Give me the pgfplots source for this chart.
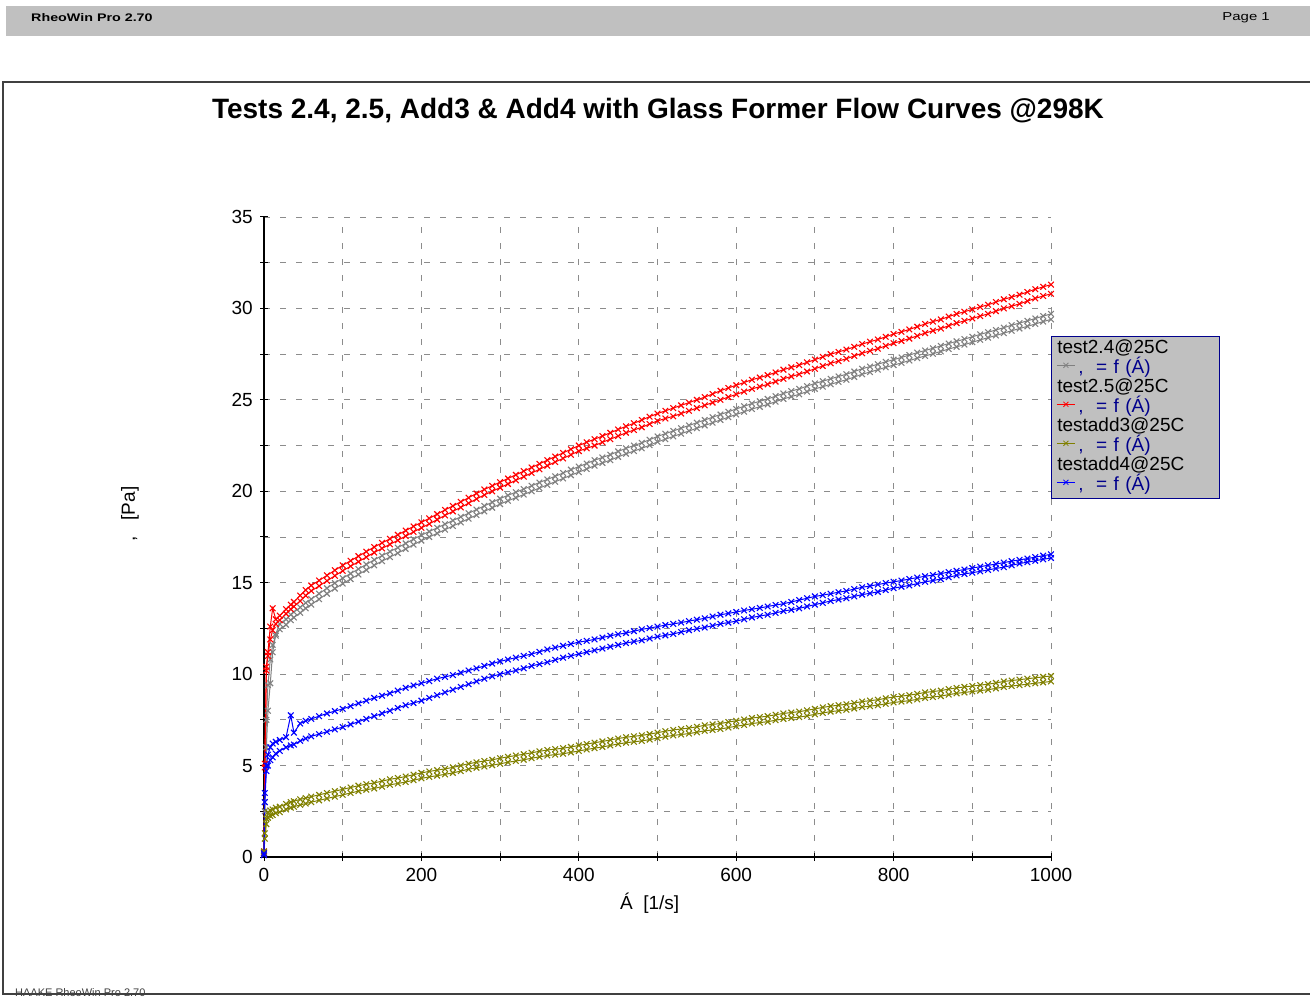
\documentclass[border=0pt]{standalone}
\usepackage{graphicx}
\usepackage{pgfplots}
\pgfplotsset{compat=1.18}
\usepackage{pgfplotstable}
\usepackage{fontspec}
\setmainfont{Liberation Sans}

\definecolor{rwgray}{RGB}{128,128,128}
\definecolor{rwred}{RGB}{255,0,0}
\definecolor{rwolive}{RGB}{128,128,0}
\definecolor{rwblue}{RGB}{0,0,255}
\definecolor{rwnavy}{RGB}{0,0,140}
\definecolor{rwpanel}{RGB}{192,192,192}
\definecolor{rwframe}{RGB}{64,64,64}
\definecolor{rwgrid}{RGB}{140,140,140}

% shear rate [1/s] and shear stress [Pa]; a = one ramp, b = the other ramp
% g = test2.4, r = test2.5, o = testadd3, b = testadd4
\pgfplotstableread{
x    ga    gb    ra    rb    oa   ob   ba    bb
0    0.3   0.2   0.2   0.3   0.2  0.3  0.1   0.2
1    2.5   3.0   5.1   4.9   1.0  1.3  3.5   3.0
3    6.0   7.5   10.4  10.2  1.8  2.1  5.0   4.7
5    8.0   9.4   11.2  11.0  2.45 2.15 5.6   5.0
8    9.5   10.8  12.6  11.9  2.55 2.25 6.0   5.3
11   11.2  11.6  13.6  12.4  2.6  2.3  6.2   5.45
15   12.2  12.1  13.0  12.75 2.7  2.4  6.3   5.65
20   12.75 12.45 13.2  12.95 2.75 2.45 6.4   5.8
28   13.0  12.7  13.55 13.3  2.9  2.6  6.55  6.0
34   13.25 12.95 13.8  13.55 3.0  2.7  7.75  6.1
38   13.4  13.1  13.95 13.7  3.05 2.75 6.8   6.15
46   13.65 13.35 14.3  14.0  3.15 2.85 7.3   6.35
53   13.9  13.6  14.6  14.3  3.22 2.92 7.45  6.48
60   14.1  13.8  14.85 14.55 3.3  3.0  7.55  6.6
70   14.4  14.1  15.12 14.82 3.4  3.1  7.7   6.72
80   14.7  14.4  15.4  15.1  3.5  3.2  7.85  6.85
90   14.98 14.68 15.68 15.38 3.6  3.3  7.98  6.98
100  15.25 14.95 15.95 15.65 3.7  3.4  8.1   7.1
110  15.5  15.2  16.2  15.9  3.8  3.5  8.25  7.25
120  15.75 15.45 16.45 16.15 3.9  3.6  8.4   7.4
130  16.0  15.7  16.7  16.4  3.98 3.68 8.55  7.55
140  16.25 15.95 16.95 16.65 4.05 3.75 8.7   7.7
150  16.48 16.18 17.18 16.88 4.15 3.85 8.82  7.85
160  16.7  16.4  17.4  17.1  4.25 3.95 8.95  8.0
170  16.92 16.62 17.62 17.32 4.32 4.02 9.1   8.15
180  17.15 16.85 17.85 17.55 4.4  4.1  9.25  8.3
190  17.38 17.08 18.08 17.78 4.5  4.2  9.38  8.42
200  17.6  17.3  18.3  18.0  4.6  4.3  9.5   8.55
210  17.8  17.5  18.52 18.22 4.68 4.38 9.62  8.7
220  18.0  17.7  18.75 18.45 4.75 4.45 9.75  8.85
230  18.2  17.9  18.98 18.68 4.82 4.52 9.85  9.0
240  18.4  18.1  19.2  18.9  4.9  4.6  9.95  9.15
250  18.6  18.3  19.42 19.12 5.0  4.7  10.08 9.3
260  18.8  18.5  19.65 19.35 5.1  4.8  10.2  9.45
270  19.0  18.7  19.88 19.58 5.18 4.88 10.32 9.6
280  19.2  18.9  20.1  19.8  5.25 4.95 10.45 9.75
290  19.4  19.1  20.3  20.0  5.32 5.02 10.58 9.88
300  19.6  19.3  20.5  20.2  5.4  5.1  10.7  10.0
310  19.78 19.48 20.7  20.4  5.48 5.18 10.8  10.1
320  19.95 19.65 20.9  20.6  5.55 5.25 10.9  10.2
330  20.12 19.82 21.1  20.8  5.62 5.32 11.0  10.32
340  20.3  20.0  21.3  21.0  5.7  5.4  11.1  10.45
350  20.48 20.18 21.5  21.2  5.78 5.48 11.22 10.55
360  20.65 20.35 21.7  21.4  5.85 5.55 11.35 10.65
370  20.82 20.52 21.9  21.6  5.9  5.6  11.45 10.78
380  21.0  20.7  22.1  21.8  5.95 5.65 11.55 10.9
390  21.18 20.88 22.3  22.0  6.02 5.72 11.65 11.0
400  21.35 21.05 22.5  22.2  6.1  5.8  11.75 11.1
410  21.52 21.22 22.68 22.35 6.18 5.88 11.82 11.2
420  21.7  21.4  22.85 22.5  6.25 5.95 11.9  11.3
430  21.85 21.55 23.02 22.68 6.32 6.02 12.0  11.4
440  22.0  21.7  23.2  22.85 6.4  6.1  12.1  11.5
450  22.18 21.88 23.38 23.02 6.48 6.18 12.18 11.6
460  22.35 22.05 23.55 23.2  6.55 6.25 12.25 11.7
470  22.5  22.2  23.72 23.35 6.6  6.3  12.35 11.78
480  22.65 22.35 23.9  23.5  6.65 6.35 12.45 11.85
490  22.82 22.52 24.08 23.68 6.72 6.42 12.52 11.95
500  23.0  22.7  24.25 23.85 6.8  6.5  12.6  12.05
510  23.15 22.85 24.4  23.98 6.88 6.58 12.68 12.12
520  23.3  23.0  24.55 24.1  6.95 6.65 12.75 12.2
530  23.45 23.15 24.7  24.25 7.0  6.7  12.82 12.3
540  23.6  23.3  24.85 24.4  7.05 6.75 12.9  12.4
550  23.75 23.45 25.0  24.55 7.12 6.82 12.98 12.48
560  23.9  23.6  25.15 24.7  7.2  6.9  13.05 12.55
570  24.05 23.75 25.32 24.85 7.25 6.95 13.15 12.65
580  24.2  23.9  25.5  25.0  7.3  7.0  13.25 12.75
590  24.35 24.05 25.65 25.15 7.38 7.08 13.32 12.82
600  24.5  24.2  25.8  25.3  7.45 7.15 13.4  12.9
610  24.65 24.35 25.95 25.45 7.52 7.22 13.48 13.0
620  24.8  24.5  26.1  25.6  7.6  7.3  13.55 13.1
630  24.92 24.62 26.22 25.72 7.65 7.35 13.62 13.18
640  25.05 24.75 26.35 25.85 7.7  7.4  13.7  13.25
650  25.2  24.9  26.5  26.0  7.78 7.48 13.78 13.35
660  25.35 25.05 26.65 26.15 7.85 7.55 13.85 13.45
670  25.48 25.18 26.78 26.28 7.9  7.6  13.95 13.52
680  25.6  25.3  26.9  26.4  7.95 7.65 14.05 13.6
690  25.75 25.45 27.05 26.55 8.02 7.72 14.15 13.7
700  25.9  25.6  27.2  26.7  8.1  7.8  14.25 13.8
710  26.02 25.72 27.35 26.85 8.18 7.88 14.32 13.9
720  26.15 25.85 27.5  27.0  8.25 7.95 14.4  14.0
730  26.28 25.98 27.62 27.12 8.3  8.0  14.48 14.08
740  26.4  26.1  27.75 27.25 8.35 8.05 14.55 14.15
750  26.55 26.25 27.9  27.4  8.42 8.12 14.65 14.25
760  26.7  26.4  28.05 27.55 8.5  8.2  14.75 14.35
770  26.82 26.52 28.18 27.68 8.55 8.25 14.82 14.42
780  26.95 26.65 28.3  27.8  8.6  8.3  14.9  14.5
790  27.08 26.78 28.45 27.95 8.68 8.38 14.98 14.6
800  27.2  26.9  28.6  28.1  8.75 8.45 15.05 14.7
810  27.32 27.02 28.72 28.22 8.8  8.5  15.12 14.78
820  27.45 27.15 28.85 28.35 8.85 8.55 15.2  14.85
830  27.58 27.28 29.0  28.5  8.92 8.62 15.28 14.95
840  27.7  27.4  29.15 28.65 9.0  8.7  15.35 15.05
850  27.82 27.52 29.28 28.78 9.05 8.75 15.42 15.12
860  27.95 27.65 29.4  28.9  9.1  8.8  15.5  15.2
870  28.08 27.78 29.55 29.05 9.18 8.88 15.58 15.3
880  28.2  27.9  29.7  29.2  9.25 8.95 15.65 15.4
890  28.32 28.02 29.82 29.32 9.3  9.0  15.72 15.48
900  28.45 28.15 29.95 29.45 9.35 9.05 15.8  15.55
910  28.58 28.28 30.08 29.58 9.4  9.1  15.88 15.62
920  28.7  28.4  30.2  29.7  9.45 9.15 15.95 15.7
930  28.82 28.52 30.35 29.85 9.52 9.22 16.02 15.78
940  28.95 28.65 30.5  30.0  9.6  9.3  16.1  15.85
950  29.08 28.78 30.62 30.12 9.65 9.35 16.18 15.95
960  29.2  28.9  30.75 30.25 9.7  9.4  16.25 16.05
970  29.32 29.02 30.9  30.4  9.75 9.45 16.32 16.12
980  29.45 29.15 31.05 30.55 9.8  9.5  16.4  16.2
990  29.58 29.28 31.18 30.68 9.85 9.55 16.48 16.28
1000 29.7  29.4  31.3  30.8  9.9  9.6  16.55 16.35
}\flowdata

\pgfplotsset{
  flow/.style={#1, line width=1pt, mark=x, mark size=4pt,
    mark options={solid, line width=1.1pt}},
}

\begin{document}
\begin{tikzpicture}
\useasboundingbox (0,0) rectangle (1310pt,997pt);

% page header
\fill[rwpanel] (6pt,961pt) rectangle (1310pt,991pt);
\node[anchor=west, inner sep=0pt] at (31pt,979pt)
  {\scalebox{1.3}[1]{\fontsize{11}{13}\selectfont\bfseries RheoWin Pro 2.70}};
\node[anchor=east, inner sep=0pt] at (1270pt,979pt)
  {\scalebox{1.3}[1]{\fontsize{11.5}{13}\selectfont Page 1}};

% chart title
\node[anchor=center, font=\fontsize{28}{32}\selectfont\bfseries] at (658pt,886pt)
  {Tests 2.4, 2.5, Add3 \& Add4 with Glass Former Flow Curves @298K};

\begin{axis}[
  at={(264pt,140pt)}, anchor=south west,
  scale only axis, width=787pt, height=640pt,
  xmin=0, xmax=1000, ymin=0, ymax=35,
  axis x line=bottom, axis y line=left,
  axis line style={-, black, line width=1.2pt},
  xtick={0,200,...,1000}, minor xtick={100,300,...,900},
  ytick={0,5,...,35}, minor ytick={2.5,7.5,...,32.5},
  grid=both,
  major grid style={rwgrid, line width=0.9pt, dash pattern=on 6pt off 10pt},
  minor grid style={rwgrid, line width=0.9pt, dash pattern=on 6pt off 10pt},
  tick align=center, major tick length=8pt, minor tick length=8pt,
  tick style={black, line width=1pt},
  /pgf/number format/assume math mode=true,
  /pgf/number format/1000 sep={},
  tick label style={font=\fontsize{19}{22}\selectfont},
  xticklabel style={inner sep=0pt, yshift=-7pt},
  yticklabel style={inner sep=0pt, xshift=-7pt},
  xlabel={Á~~[1/s]}, ylabel={,~~~[Pa]},
  every axis x label/.style={at={(rel axis cs:0.49,0)}, yshift=-46pt,
    anchor=center, font=\fontsize{19}{22}\selectfont},
  every axis y label/.style={at={(rel axis cs:0,0.536)}, xshift=-134pt,
    rotate=90, anchor=center, font=\fontsize{19}{22}\selectfont},
  clip=false,
  legend cell align=left,
  legend image code/.code={\draw[mark repeat=2, mark phase=2, line width=0.8pt,
    mark size=3.5pt, mark options={solid, line width=0.8pt}]
    plot coordinates {(0pt,3.5pt) (9pt,3.5pt) (18pt,3.5pt)};},
  legend style={at={(axis cs:1000,28.49)}, anchor=north west,
    fill=rwpanel, draw=rwnavy, line width=1pt,
    inner xsep=5pt, inner ysep=3pt, row sep=0pt, column sep=3pt,
    font=\fontsize{19}{19}\selectfont,
    nodes={inner sep=0pt, text height=14pt, text depth=5.5pt,
      text width=136pt, align=left}},
]

\addlegendimage{empty legend}
\addlegendentry{\hspace*{-21pt}test2.4@25C}
\addplot[flow=rwgray] table[x=x, y=ga] {\flowdata};
\addlegendentry{\textcolor{rwnavy}{,~~= f (Á)}}
\addplot[flow=rwgray, forget plot] table[x=x, y=gb] {\flowdata};

\addlegendimage{empty legend}
\addlegendentry{\hspace*{-21pt}test2.5@25C}
\addplot[flow=rwred] table[x=x, y=ra] {\flowdata};
\addlegendentry{\textcolor{rwnavy}{,~~= f (Á)}}
\addplot[flow=rwred, forget plot] table[x=x, y=rb] {\flowdata};

\addlegendimage{empty legend}
\addlegendentry{\hspace*{-21pt}testadd3@25C}
\addplot[flow=rwolive] table[x=x, y=oa] {\flowdata};
\addlegendentry{\textcolor{rwnavy}{,~~= f (Á)}}
\addplot[flow=rwolive, forget plot] table[x=x, y=ob] {\flowdata};

\addlegendimage{empty legend}
\addlegendentry{\hspace*{-21pt}testadd4@25C}
\addplot[flow=rwblue] table[x=x, y=ba] {\flowdata};
\addlegendentry{\textcolor{rwnavy}{,~~= f (Á)}}
\addplot[flow=rwblue, forget plot] table[x=x, y=bb] {\flowdata};

\end{axis}

% page frame and footer
\node[anchor=base west, text=rwframe, font=\fontsize{11}{13}\selectfont, inner sep=0pt]
  at (15pt,1pt) {HAAKE RheoWin Pro 2.70};
\draw[rwframe, line width=2pt] (1310pt,915pt) -- (3pt,915pt) -- (3pt,3pt) -- (1310pt,3pt);
\end{tikzpicture}
\end{document}
